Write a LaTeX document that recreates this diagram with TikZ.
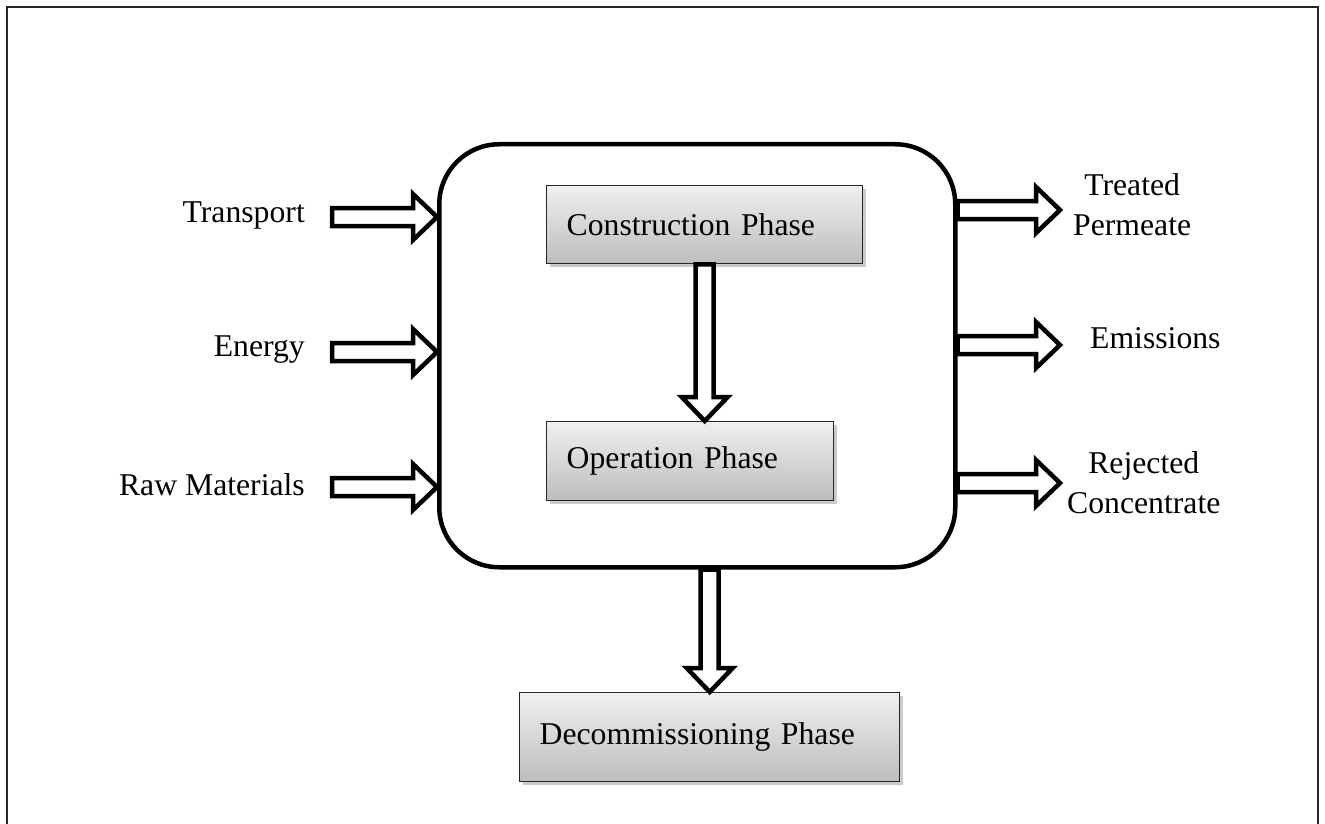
\documentclass[tikz,border=0pt]{standalone}
\usepackage{fontspec}
\setmainfont{Liberation Serif}
\usetikzlibrary{calc,shadows}

\tikzset{
  txt/.style={font=\fontsize{31.7}{40}\selectfont},
  phase/.style={txt, draw=black!85, line width=1.4pt, top color=black!6, bottom color=black!26,
    drop shadow={shadow xshift=3pt, shadow yshift=-3pt, opacity=0.35, fill=black!60},
    anchor=north west, inner xsep=20pt, align=left},
  system/.style={draw=black, line width=4.5pt, rounded corners=60pt, anchor=north west, inner sep=0pt},
  blockarrow/.style={draw=black, fill=white, line width=4.5pt, line join=miter},
  lbl/.style={txt, inner sep=0pt},
}

% hollow block arrow from #1 to #2 (tip at #2)
\newcommand\blockarrow[2]{%
  \path[blockarrow] let \p1=(#1), \p2=(#2),
    \n1={atan2(\y2-\y1,\x2-\x1)}, \n2={veclen(\x2-\x1,\y2-\y1)}, \n3={\n2-24} in
    [shift={(\p1)}, rotate=\n1]
    (0pt,-9pt) -- ({\n3*1pt},-9pt) -- ({\n3*1pt},-23pt) -- ({\n2*1pt},0pt)
    -- ({\n3*1pt},23pt) -- ({\n3*1pt},9pt) -- (0pt,9pt) -- cycle;}

\begin{document}
\begin{tikzpicture}[x=1pt,y=-1pt]
  \useasboundingbox (0,0) rectangle (1325,824);
  % outer frame
  \draw[line width=2pt, black!85] (7,7) rectangle (1318,840);

  % system boundary
  \node[system, minimum width=516pt, minimum height=423pt] (sys) at (437,142) {};

  % life-cycle phases
  \node[phase, minimum width=316pt, minimum height=78pt, text width=276pt] (cons) at (546,185) {Construction Phase};
  \node[phase, minimum width=287pt, minimum height=79pt, text width=247pt] (op) at (546,421) {Operation Phase};
  \node[phase, minimum width=380pt, minimum height=89pt, text width=340pt] (dec) at (519,692) {Decommissioning Phase};

  % inputs
  \node[lbl, anchor=east] (ltr) at (305,215) {Transport};
  \node[lbl, anchor=east] (len) at (305,350) {Energy};
  \node[lbl, anchor=east] (lrm) at (305,485) {Raw Materials};
  \coordinate (in1) at (332,217);
  \coordinate (in2) at (332,352);
  \coordinate (in3) at (332,487);

  % outputs
  \node[lbl, anchor=west, align=center] (ltp) at (1073,205) {Treated\\Permeate};
  \node[lbl, anchor=west] (lem) at (1090,338) {Emissions};
  \node[lbl, anchor=west, align=center] (lrc) at (1067,483) {Rejected\\Concentrate};
  \coordinate (out1) at (1060,210);
  \coordinate (out2) at (1060,345);
  \coordinate (out3) at (1060,483);

  % arrows
  \blockarrow{in1}{sys.west |- in1}
  \blockarrow{in2}{sys.west |- in2}
  \blockarrow{in3}{sys.west |- in3}
  \blockarrow{sys.east |- out1}{out1}
  \blockarrow{sys.east |- out2}{out2}
  \blockarrow{sys.east |- out3}{out3}
  \blockarrow{cons.south}{cons.south |- op.north}
  \blockarrow{dec.north |- sys.south}{dec.north}
\end{tikzpicture}
\end{document}
